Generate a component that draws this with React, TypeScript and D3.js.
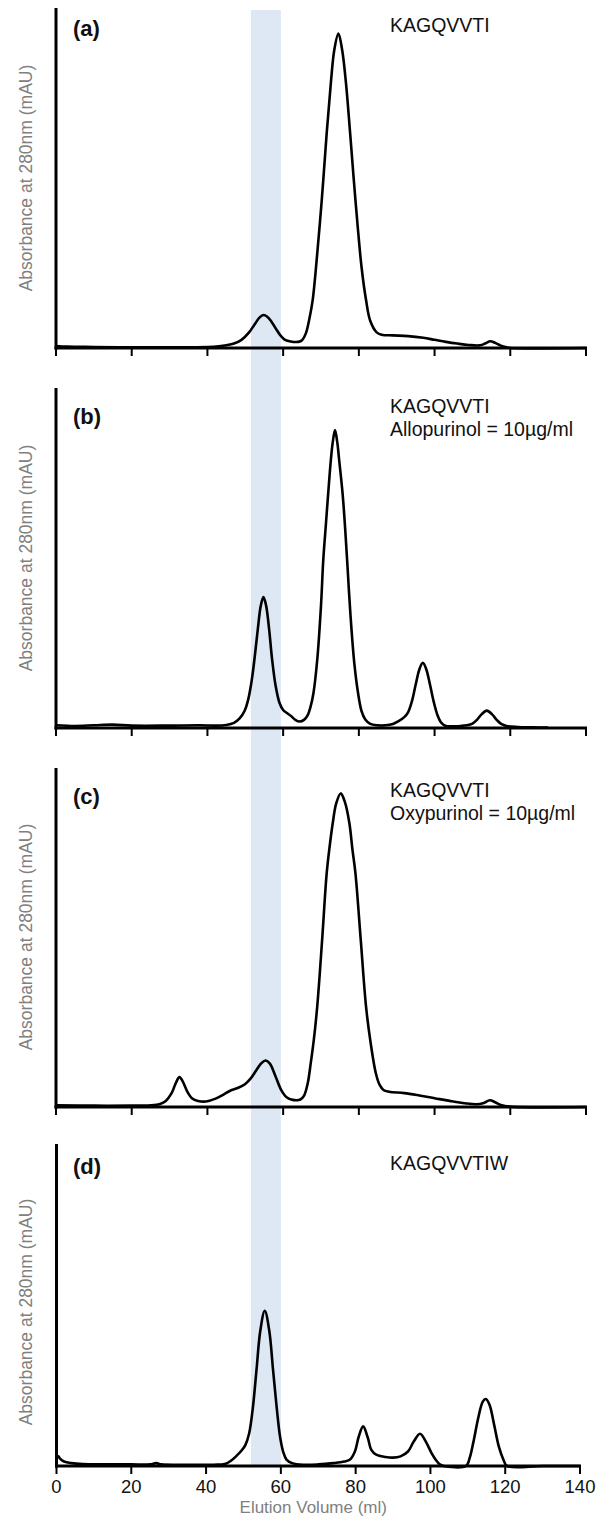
import * as d3 from 'd3';

// elution volume (ml) vs absorbance, as % of the panel's axis height
const traceA: [number, number][] = [
  [0, 0.6], [3, 0.4], [10, 0.3], [20, 0.2], [30, 0.2], [40, 0.3], [43, 0.5], [45, 0.8], [47, 1.3], [49, 2.4],
  [51, 4.6], [52.5, 7], [53.8, 9], [54.8, 9.7], [55.8, 9.2], [57, 7.6], [58.3, 5.3], [59.5, 3.4], [60.5, 2.4],
  [62, 1.9], [64, 1.8], [65, 2.3], [66, 4.3], [67, 9], [67.8, 14.1], [68.7, 23.9], [70.2, 43.5], [71.5, 63.1],
  [72.6, 77.9], [73.5, 87.6], [74.6, 92.5], [75.6, 87.6], [76.6, 77.9], [77.7, 63.1], [79.1, 43.5], [80.7, 23.9],
  [81.9, 14.1], [83, 8], [84.7, 4.6], [86, 3.9], [89, 3.7], [93, 3.5], [97, 3], [100, 2.4], [103, 1.8], [106, 1.3],
  [109, 0.9], [112, 0.8], [113.5, 1.4], [114.7, 2], [116, 1.5], [117.5, 0.7], [119, 0.2], [120, 0], [140, 0]
];

const traceB: [number, number][] = [
  [0, 0.8], [5, 0.6], [10, 0.8], [15, 1], [20, 0.7], [30, 0.7], [38, 0.8], [42, 0.7], [45, 0.9], [47, 1.5],
  [48.5, 2.8], [49.8, 5], [50.8, 8.5], [51.7, 14], [52.5, 21], [53.3, 29], [54.1, 36], [54.8, 38.5], [55.5, 36],
  [56.3, 29], [57.1, 20], [58, 12.5], [59, 7.5], [60, 5.3], [61, 4.4], [62, 3.6], [63.2, 2.4], [64.4, 1.9],
  [65.5, 2.4], [66.5, 3.8], [67.3, 6.5], [68, 10.2], [69, 20], [70, 36], [70.6, 49.4], [71.3, 60], [71.9, 69],
  [72.6, 78.8], [73.1, 84], [73.7, 87.6], [74.3, 84], [74.8, 78.8], [75.7, 69], [76.3, 60], [76.9, 49.4],
  [77.8, 33], [78.8, 19], [79.8, 10.2], [80.7, 5], [81.7, 2.5], [83, 1.2], [85, 0.8], [87, 0.8], [89, 1.2],
  [90.5, 2], [92, 3.2], [93, 4.6], [94, 7.8], [95, 12.7], [96, 17.3], [96.9, 19.2], [97.8, 17.3], [98.8, 12.7],
  [99.8, 7.6], [100.8, 3.7], [101.8, 1.5], [103, 0.6], [105, 0.5], [107, 0.6], [108.5, 0.8], [110, 1.3],
  [111.2, 2.4], [112.4, 4], [113.8, 5.1], [115.2, 4], [116.4, 2.4], [117.6, 1.2], [119, 0.6], [122, 0.3],
  [126, 0.2], [130, 0.1]
];

const traceC: [number, number][] = [
  [0, 0.5], [10, 0.4], [20, 0.4], [25, 0.5], [27.5, 0.9], [29, 1.8], [30.5, 4], [31.7, 7.2], [32.6, 8.8],
  [33.5, 7.5], [34.7, 4.5], [36, 2.5], [37.5, 1.8], [39.5, 1.6], [42, 2.4], [44, 3.5], [46, 4.8], [48, 5.6],
  [50, 6.8], [51.5, 8.5], [53, 11], [54.3, 13], [55.4, 13.7], [56.5, 12.8], [58, 9], [59.5, 5], [61, 2.8],
  [62.5, 2.1], [63.8, 2], [64.8, 2.4], [65.6, 3.5], [66.5, 7], [67.3, 13], [68.1, 19.8], [69, 29.6], [70.3, 49.3],
  [71.5, 68.9], [72.3, 77], [73.1, 83.7], [74, 89.5], [75.2, 92.5], [76.3, 90], [77.5, 83.7], [78.3, 76],
  [79.1, 68.9], [80.5, 49.3], [81.9, 29.6], [83, 19.8], [84.5, 9.9], [85.5, 6.5], [86.5, 5], [88, 4.5], [92, 4.1],
  [96, 3.4], [100, 2.6], [104, 1.8], [108, 1.1], [111, 0.8], [113, 1.2], [114.6, 2], [116, 1.4], [117.5, 0.6],
  [120, 0.1], [140, 0]
];

const traceD: [number, number][] = [
  [0, 2.5], [0.5, 3], [1, 2.2], [2, 1.4], [4, 0.9], [7, 0.6], [12, 0.5], [20, 0.5], [25, 0.5], [26.7, 0.9],
  [28, 0.5], [35, 0.4], [42, 0.4], [45, 0.6], [46.5, 1.5], [48, 3], [49.5, 4.8], [50.5, 6.5], [51.5, 10],
  [52.5, 18], [53.5, 30], [54.5, 42], [55.7, 48.2], [56.9, 42], [57.9, 30], [58.9, 18], [59.8, 9], [60.6, 4.5],
  [61.5, 2], [63, 0.9], [66, 0.4], [70, 0.5], [74, 0.9], [77, 1.4], [78.5, 2], [79.8, 4.5], [80.8, 9], [82, 12.3],
  [83.2, 9], [84.2, 5], [85.5, 3.5], [88, 2.8], [90, 2.6], [92, 3], [94, 4.5], [95.5, 7.5], [97.2, 10],
  [98.8, 7.5], [100.3, 4], [101.5, 1.8], [102.5, 0.5], [103.5, 0], [109.5, 0], [110.5, 2.5], [111.5, 7.5],
  [112.8, 15], [114, 20], [114.8, 20.8], [115.8, 19], [117, 13], [118.3, 6], [119.5, 2], [120.5, 0], [130, 0],
  [140, 0]
];

const xTicks = [0, 20, 40, 60, 80, 100, 120, 140];
const shadedBand = [52, 60];
const panelLabels = ['(a)', '(b)', '(c)', '(d)'];
const panelNotes = [
  ['KAGQVVTI'],
  ['KAGQVVTI', 'Allopurinol = 10µg/ml'],
  ['KAGQVVTI', 'Oxypurinol = 10µg/ml'],
  ['KAGQVVTIW']
];
const traces = [traceA, traceB, traceC, traceD];

const yTitle = 'Absorbance at 280nm (mAU)';
const xTitle = 'Elution Volume (ml)';

const W = 597;
const H = 1517;
const FONT = '"Liberation Sans", Arial, Helvetica, sans-serif';

const layouts = [
  { top: 8, bottom: 348, left: 56, right: 586, labelY: 36, noteY: 32, titleY: 178 },
  { top: 388, bottom: 728, left: 56, right: 586, labelY: 424, noteY: 413, titleY: 558 },
  { top: 768, bottom: 1107, left: 56, right: 586, labelY: 804, noteY: 797, titleY: 937 },
  { top: 1144, bottom: 1466, left: 56.5, right: 580, labelY: 1174, noteY: 1170, titleY: 1312 }
];

function Panel({ layout, trace, label, notes, last }) {
  const x = d3.scaleLinear().domain([0, 140]).range([layout.left, layout.right]);
  const y = d3.scaleLinear().domain([0, 100]).range([layout.bottom, layout.top]);
  const line = d3
    .line<[number, number]>()
    .x((d) => x(d[0]))
    .y((d) => Math.min(y(d[1]), layout.bottom))
    .curve(d3.curveCatmullRom.alpha(0.5));

  return (
    <g>
      <path d={line(trace) || ''} fill="none" stroke="#000" strokeWidth={2.6} strokeLinejoin="round" />
      <line x1={layout.left} x2={layout.left} y1={layout.top} y2={layout.bottom + 1.5} stroke="#000" strokeWidth={3} />
      <line x1={layout.left - 1.5} x2={layout.right + 1} y1={layout.bottom} y2={layout.bottom} stroke="#000" strokeWidth={3} />
      {xTicks.map((t) => (
        <g key={t}>
          <line x1={x(t)} x2={x(t)} y1={layout.bottom} y2={layout.bottom + 8} stroke="#000" strokeWidth={2} />
          {last ? (
            <text x={x(t)} y={layout.bottom + 27} textAnchor="middle" fontSize={18.5} fill="#111">
              {t}
            </text>
          ) : null}
        </g>
      ))}
      <text x={73} y={layout.labelY} fontSize={22} fontWeight="bold" fill="#111">
        {label}
      </text>
      {notes.map((n, i) => (
        <text key={n} x={390} y={layout.noteY + i * 23} fontSize={19.5} fill="#111">
          {n}
        </text>
      ))}
      <text
        transform={`translate(32,${layout.titleY}) rotate(-90)`}
        textAnchor="middle"
        fontSize={17.5}
        fill="#808080"
      >
        {yTitle}
      </text>
      {last ? (
        <text x={(layout.left + layout.right) / 2 - 5} y={layout.bottom + 47} textAnchor="middle" fontSize={17} fill="#808080">
          {xTitle}
        </text>
      ) : null}
    </g>
  );
}

export default function App() {
  const dLayout = layouts[3];
  const xBand = d3.scaleLinear().domain([0, 140]).range([dLayout.left, dLayout.right]);

  return (
    <svg
      width={W}
      height={H}
      style={{ position: 'absolute', left: 0, top: 0, background: '#fff' }}
      fontFamily={FONT}
    >
      <rect
        x={xBand(shadedBand[0])}
        y={10}
        width={xBand(shadedBand[1]) - xBand(shadedBand[0])}
        height={dLayout.bottom - 10}
        fill="#dde8f4"
      />
      {layouts.map((layout, i) => (
        <Panel
          key={panelLabels[i]}
          layout={layout}
          trace={traces[i]}
          label={panelLabels[i]}
          notes={panelNotes[i]}
          last={i === layouts.length - 1}
        />
      ))}
    </svg>
  );
}
